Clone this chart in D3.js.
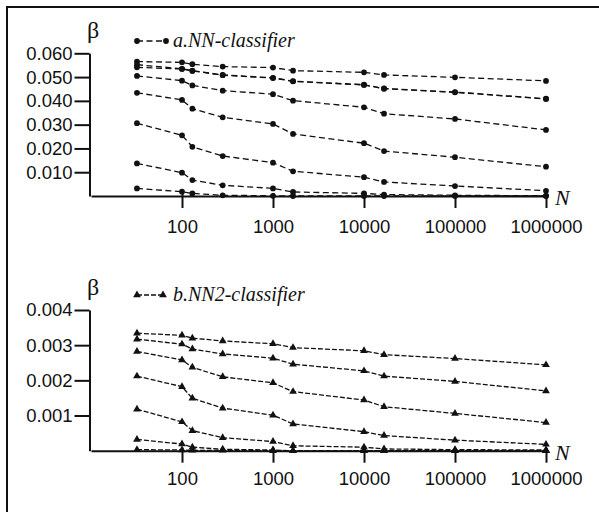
<!DOCTYPE html>
<html>
<head>
<meta charset="utf-8">
<script src="https://cdn.jsdelivr.net/npm/d3@7"></script>
<style>
  body { margin: 0; background: #fff; }
  svg { display: block; }
</style>
</head>
<body>
<div id="chart"></div>
<script>
// sample sizes N (same for every curve)
var sizes = [32, 100, 130, 280, 1000, 1660, 10000, 16600, 100000, 1000000];
var xTicks = [100, 1000, 10000, 100000, 1000000];

// a. NN-classifier, beta per curve
var nnSeries = [
    [0.0565, 0.0562, 0.0554, 0.0544, 0.0540, 0.0527, 0.0520, 0.0509, 0.0499, 0.0484],
    [0.0552, 0.0535, 0.0527, 0.0509, 0.0497, 0.0483, 0.0468, 0.0452, 0.0437, 0.0409],
    [0.0541, 0.0534, 0.0526, 0.0508, 0.0496, 0.0482, 0.0467, 0.0451, 0.0436, 0.0408],
    [0.0505, 0.0485, 0.0465, 0.0443, 0.0428, 0.0401, 0.0373, 0.0346, 0.0324, 0.0278],
    [0.0434, 0.0404, 0.0367, 0.0331, 0.0303, 0.0261, 0.0222, 0.0189, 0.0163, 0.0123],
    [0.0306, 0.0255, 0.0207, 0.0168, 0.0140, 0.0104, 0.0079, 0.0059, 0.0042, 0.0022],
    [0.0137, 0.0098, 0.0067, 0.0045, 0.0032, 0.0017, 0.0011, 0.0006, 0.0003, 0.0001],
    [0.0032, 0.0018, 0.0011, 0.0003, 0.0001, 0.0000, 0.0000, 0.0000, 0.0000, 0.0000]
];
var nnTicks = [0.010, 0.020, 0.030, 0.040, 0.050, 0.060];

// b. NN2-classifier, beta per curve
var nn2Series = [
    [0.00334, 0.00328, 0.00320, 0.00312, 0.00304, 0.00293, 0.00284, 0.00273, 0.00262, 0.00244],
    [0.00317, 0.00303, 0.00289, 0.00275, 0.00263, 0.00246, 0.00227, 0.00212, 0.00197, 0.00170],
    [0.00282, 0.00258, 0.00237, 0.00210, 0.00193, 0.00168, 0.00144, 0.00125, 0.00106, 0.00080],
    [0.00212, 0.00182, 0.00149, 0.00121, 0.00101, 0.00076, 0.00054, 0.00043, 0.00030, 0.00018],
    [0.00118, 0.00082, 0.00057, 0.00037, 0.00026, 0.00014, 0.00010, 0.00005, 0.00003, 0.00002],
    [0.00032, 0.00019, 0.00010, 0.00004, 0.00002, 0.00000, 0.00000, 0.00000, 0.00000, 0.00000],
    [0.00003, 0.00002, 0.00001, 0.00001, 0.00000, 0.00000, 0.00000, 0.00000, 0.00000, 0.00000]
];
var nn2Ticks = [0.001, 0.002, 0.003, 0.004];

var ink = "#111";

var svg = d3.select("#chart")
    .append("svg")
        .attr("width", 599)
        .attr("height", 512);

// frame (runs off the right and bottom edge in the scan)
svg.append("rect")
    .attr("x", 7).attr("y", 7)
    .attr("width", 700).attr("height", 700)
    .attr("fill", "none")
    .attr("stroke", ink)
    .attr("stroke-width", 2);

function drawPanel(opts) {
    var g = svg.append("g");

    var x = d3.scaleLog()
        .domain([10, 1000000])
        .range([91, 546]);

    var y = d3.scaleLinear()
        .domain([0, opts.yMax])
        .range([opts.bottom, opts.top]);

    // x axis
    var xAxis = g.append("g")
        .attr("transform", "translate(0," + opts.bottom + ")")
        .call(d3.axisBottom(x)
            .tickValues(xTicks)
            .tickFormat(d3.format("d"))
            .tickSize(12)
            .tickSizeOuter(0)
            .tickPadding(opts.xPad));
    xAxis.selectAll(".tick line").attr("y1", -3);

    // y axis
    var yAxis = g.append("g")
        .attr("transform", "translate(89.5,0)")
        .call(d3.axisLeft(y)
            .tickValues(opts.ticks)
            .tickFormat(d3.format(opts.fmt))
            .tickSize(15)
            .tickSizeOuter(0)
            .tickPadding(2));

    g.selectAll(".domain, .tick line")
        .attr("stroke", ink)
        .attr("stroke-width", 2);
    g.selectAll(".tick text")
        .attr("fill", ink)
        .style("font-family", "'Liberation Sans', Arial, sans-serif")
        .style("font-size", "18.5px");

    // curves
    var line = d3.line()
        .x(function(d, i) { return x(sizes[i]); })
        .y(function(d) { return y(d); });

    opts.series.forEach(function(s) {
        g.append("path")
            .attr("d", line(s))
            .attr("fill", "none")
            .attr("stroke", ink)
            .attr("stroke-width", 1.3)
            .attr("stroke-dasharray", opts.dash);

        g.selectAll(null)
            .data(s)
            .enter()
            .append("path")
                .attr("transform", function(d, i) {
                    return "translate(" + x(sizes[i]) + "," + y(d) + ")";
                })
                .attr("d", opts.marker)
                .attr("fill", ink);
    });

    // legend
    var ly = opts.legendY;
    g.append("line")
        .attr("x1", 137).attr("x2", opts.legendX2)
        .attr("y1", ly).attr("y2", ly)
        .attr("stroke", ink)
        .attr("stroke-width", 1.3)
        .attr("stroke-dasharray", opts.dash);
    [137, opts.legendX2].forEach(function(px) {
        g.append("path")
            .attr("transform", "translate(" + px + "," + ly + ")")
            .attr("d", opts.marker)
            .attr("fill", ink);
    });
    g.append("text")
        .attr("x", 173)
        .attr("y", ly + 6)
        .attr("fill", ink)
        .style("font-family", "'Liberation Serif', 'Times New Roman', serif")
        .style("font-style", "italic")
        .style("font-size", "20px")
        .text(opts.label);

    // beta and N labels
    g.append("text")
        .attr("x", 87)
        .attr("y", opts.top - 15)
        .attr("fill", ink)
        .style("font-family", "'Liberation Serif', 'Times New Roman', serif")
        .style("font-size", "24px")
        .text("β");
    g.append("text")
        .attr("x", 555)
        .attr("y", opts.bottom + 9)
        .attr("fill", ink)
        .style("font-family", "'Liberation Serif', 'Times New Roman', serif")
        .style("font-style", "italic")
        .style("font-size", "22px")
        .text("N");
}

drawPanel({
    series: nnSeries,
    ticks: nnTicks,
    fmt: ".3f",
    yMax: 0.060,
    top: 53.3,
    bottom: 196,
    xPad: 12,
    dash: "6,3.5",
    marker: d3.symbol().type(d3.symbolCircle).size(26)(),
    legendY: 41,
    legendX2: 166,
    label: "a.NN-classifier"
});

drawPanel({
    series: nn2Series,
    ticks: nn2Ticks,
    fmt: ".3f",
    yMax: 0.004,
    top: 310,
    bottom: 450.7,
    xPad: 9.5,
    dash: "5,2",
    marker: d3.symbol().type(d3.symbolTriangle).size(26)(),
    legendY: 295,
    legendX2: 163,
    label: "b.NN2-classifier"
});
</script>
</body>
</html>
